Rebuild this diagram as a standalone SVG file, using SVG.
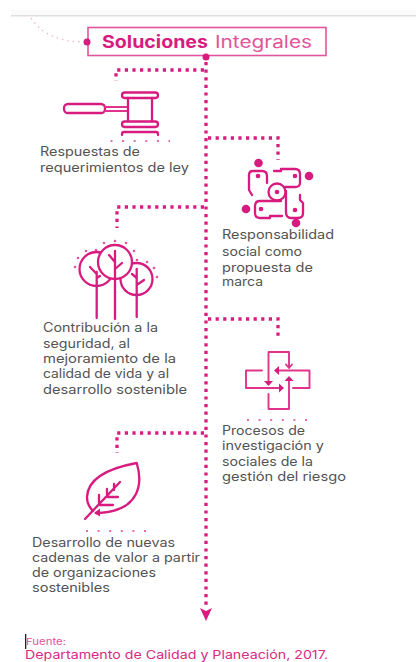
<svg xmlns="http://www.w3.org/2000/svg" width="416" height="662" viewBox="0 0 416 662">
<style>
.dot{fill:none;stroke:#d81b7f;stroke-width:3.300;stroke-dasharray:3.200 4.400}
.ln{fill:none;stroke:#d81b7f;stroke-width:2.300;stroke-linecap:round;stroke-linejoin:round}
.th{fill:none;stroke:#e0348c;stroke-width:1.900;stroke-linecap:round;stroke-linejoin:round}
.fine{fill:none;stroke:#ec6aa9;stroke-width:2;stroke-dasharray:2 9.6}
.f{fill:#d81b7f}
text{font-family:"Inter","Liberation Sans",sans-serif}
.t{font-size:12.500px;fill:#535353}
</style>
<rect width="416" height="662" fill="#fff"/>
<rect x="11" y="10" width="405" height="5" fill="#fafafa"/>
<rect x="11" y="15" width="405" height="1.500" fill="#dedede"/>
<g id="connectors">
<path d="M31,18 Q46,41 82,42" fill="none" stroke="#f4b4d2" stroke-width="1.300" stroke-dasharray="1.500 4"/>
<path class="dot" d="M206,62V608"/>
<path class="dot" d="M204,70H116V81"/>
<path class="dot" d="M208,138H278V160"/>
<path class="dot" d="M204,207H117V228"/>
<path class="dot" d="M208,319H278V340"/>
<path class="dot" d="M204,433H117V453"/>
<path class="f" d="M200,608L206,611L212,608L206,621Z"/>
</g>
<g id="title">
<rect x="88" y="27.500" width="238" height="28" fill="#fff" stroke="#e0559b" stroke-width="1.600"/>
<circle class="f" cx="87" cy="42" r="3.500"/>
<circle class="f" cx="206" cy="57" r="3.500"/>
<text x="102" y="48" font-size="17.500" font-weight="700" fill="#d81b7f" textLength="106" lengthAdjust="spacingAndGlyphs">Soluciones</text>
<text x="215" y="48" font-size="17.500" fill="#e0559b" textLength="97" lengthAdjust="spacingAndGlyphs">Integrales</text>
</g>
<g id="node-ley">
<rect class="ln" x="64" y="104" width="41" height="9" rx="4"/>
<path class="th" d="M105,107H128M105,111H128"/>
<rect class="ln" x="122" y="92.500" width="36" height="5.500" rx="2.700"/>
<rect class="ln" x="122" y="121.500" width="36" height="5.500" rx="2.700"/>
<path class="ln" d="M128,98V121M152,98V121"/>
<path class="ln" d="M122,135V134Q122,132 124,132H156Q158,132 158,134V135"/>
<path class="fine" d="M110.500,141H170"/>
<text class="t" x="40" y="156" textLength="100" lengthAdjust="spacingAndGlyphs">Respuestas de</text>
<text class="t" x="40" y="172" textLength="149" lengthAdjust="spacingAndGlyphs">requerimientos de ley</text>
</g>
<g id="node-social">
<circle class="f" cx="258.500" cy="163" r="4.300"/>
<circle class="f" cx="309" cy="176" r="4.300"/>
<circle class="f" cx="246" cy="209" r="4.300"/>
<circle class="f" cx="296" cy="223" r="4.300"/>
<path class="ln" d="M252,195L249,190V175Q249,171 253,171H262Q267,171 267,176V183"/>
<path class="ln" d="M274,171H281V169H295Q300,169 300,174V183Q300,187 295,187H285"/>
<path class="ln" d="M281,201H260Q255,201 255,206V213Q255,218 260,218H270V216H282"/>
<path class="ln" d="M286,191V212Q286,218 291,218H298Q303,218 303,213V203L300,200V195"/>
<circle class="ln" cx="277" cy="192" r="8.500"/>
<circle class="f" cx="277" cy="192" r="2.300"/>
<circle class="f" cx="258" cy="176" r="2.300"/>
<circle class="f" cx="295" cy="176" r="2.300"/>
<circle class="f" cx="261" cy="209" r="2.300"/>
<circle class="f" cx="295" cy="210" r="2.300"/>
<text class="t" x="222" y="239" textLength="112" lengthAdjust="spacingAndGlyphs">Responsabilidad</text>
<text class="t" x="222" y="256" textLength="80" lengthAdjust="spacingAndGlyphs">social como</text>
<text class="t" x="222" y="272" textLength="91" lengthAdjust="spacingAndGlyphs">propuesta de</text>
<text class="t" x="222" y="286" textLength="41" lengthAdjust="spacingAndGlyphs">marca</text>
</g>
<g id="node-seguridad">
<circle class="ln" cx="96.500" cy="269" r="17"/>
<circle class="ln" cx="136.500" cy="279" r="16"/>
<path class="ln" d="M96.700,272V318M90,267L96.700,274M96.700,278L100,276"/>
<path class="ln" d="M136.700,269V317M132,274L136.700,278M136.700,285L144,280"/>
<circle cx="115" cy="262" r="17" fill="#fff" stroke="#d81b7f" stroke-width="2.300"/>
<path class="ln" d="M115,251V319"/>
<path class="ln" d="M109,255L115,262M115,269L122,263"/>
<g class="f" fill-opacity=".75">
<circle cx="75" cy="267" r="1.300"/><circle cx="78" cy="258" r="1.300"/><circle cx="86" cy="251" r="1.300"/><circle cx="96" cy="250" r="1.300"/>
<circle cx="104" cy="243" r="1.300"/><circle cx="115" cy="241" r="1.300"/><circle cx="126" cy="243" r="1.300"/><circle cx="134" cy="251" r="1.300"/>
<circle cx="137" cy="260" r="1.300"/><circle cx="147" cy="262" r="1.300"/><circle cx="154" cy="268" r="1.300"/><circle cx="157" cy="277" r="1.300"/>
</g>
<text class="t" x="43" y="332" textLength="115" lengthAdjust="spacingAndGlyphs">Contribución a la</text>
<text class="t" x="43" y="348" textLength="87" lengthAdjust="spacingAndGlyphs">seguridad, al</text>
<text class="t" x="43" y="363" textLength="133" lengthAdjust="spacingAndGlyphs">mejoramiento de la</text>
<text class="t" x="43" y="378" textLength="126" lengthAdjust="spacingAndGlyphs">calidad de vida y al</text>
<text class="t" x="43" y="394" textLength="144" lengthAdjust="spacingAndGlyphs">desarrollo sostenible</text>
</g>
<g id="node-riesgo">
<path class="th" d="M268.500,384V352H289V367M286,364.500L289,368L292,364.500"/>
<path class="f" d="M264,381L268.500,386L273,381Z"/>
<path class="th" d="M262,370.500H246V388H281"/>
<path class="f" d="M279,383.500L284,388L279,392.500Z"/>
<path class="th" d="M277,370.500H309.500V388H293"/>
<path class="f" d="M279,366L274,370.500L279,375Z"/>
<path class="th" d="M268.500,394V409H289V380"/>
<path class="f" d="M284.500,381L289,376L293.500,381Z"/>
<path class="fine" d="M247,420H311"/>
<text class="t" x="222" y="435" textLength="83" lengthAdjust="spacingAndGlyphs">Procesos de</text>
<text class="t" x="222" y="450" textLength="102" lengthAdjust="spacingAndGlyphs">investigación y</text>
<text class="t" x="222" y="466" textLength="91" lengthAdjust="spacingAndGlyphs">sociales de la</text>
<text class="t" x="222" y="481" textLength="124" lengthAdjust="spacingAndGlyphs">gestión del riesgo</text>
</g>
<g id="node-cadenas">
<path class="ln" d="M93,511C90,508 87,503 87,497C88,475 115,467 136.700,463C142,480 143,512 96,513"/>
<path class="ln" d="M85,519L120,482M99,505V495M100,505H113M107,497V489M108,497H118M114,490V484"/>
<path class="f" d="M100,508.500L94,513L100,516.500Z"/>
<path class="fine" d="M86,531H149"/>
<text class="t" x="32" y="547" textLength="143" lengthAdjust="spacingAndGlyphs">Desarrollo de nuevas</text>
<text class="t" x="32" y="562" textLength="168" lengthAdjust="spacingAndGlyphs">cadenas de valor a partir</text>
<text class="t" x="32" y="577" textLength="124" lengthAdjust="spacingAndGlyphs">de organizaciones</text>
<text class="t" x="32" y="592" textLength="78" lengthAdjust="spacingAndGlyphs">sostenibles</text>
</g>
<g id="source">
<rect x="25" y="634" width="1.300" height="15" fill="#222"/>
<text x="26" y="645" font-size="9.500" fill="#e0559b" textLength="40" lengthAdjust="spacingAndGlyphs">Fuente:</text>
<text x="25" y="659" font-size="12" fill="#d92a85" textLength="303" lengthAdjust="spacingAndGlyphs">Departamento de Calidad y Planeación, 2017.</text>
</g>
</svg>
